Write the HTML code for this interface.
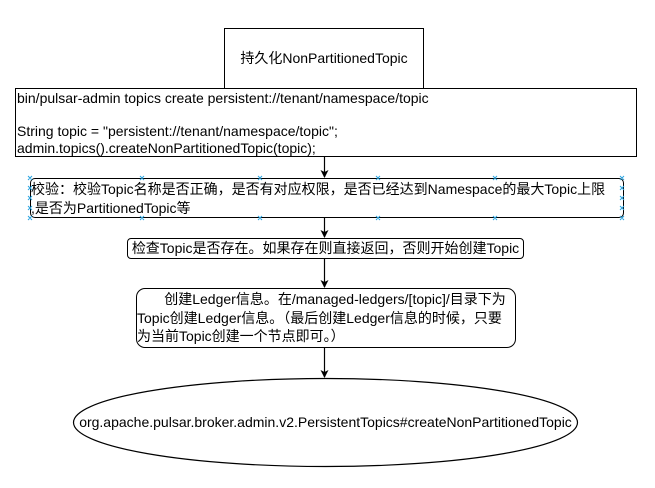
<!DOCTYPE html>
<html><head><meta charset="utf-8"><style>
body{margin:0;background:#fff;width:655px;height:488px;position:relative;overflow:hidden;font-family:"Liberation Sans","Noto Sans CJK SC",sans-serif;font-size:14px;color:#000}
.b{position:absolute;box-sizing:border-box;border:1px solid #000;background:#fff}
.t{position:absolute;white-space:nowrap;line-height:16px}
</style></head><body>
<svg width="655" height="488" style="position:absolute;left:0;top:0">
<defs><marker id="a" markerWidth="8" markerHeight="8" refX="7" refY="4" orient="auto" markerUnits="userSpaceOnUse"><path d="M0,0 L8,4 L0,8 L2,4 z" fill="#000"/></marker></defs>
<g stroke="#000" stroke-width="1.2" fill="none">
<line x1="324.5" y1="157" x2="324.5" y2="177" marker-end="url(#a)"/>
<line x1="324.5" y1="218" x2="324.5" y2="237" marker-end="url(#a)"/>
<line x1="324.5" y1="259" x2="324.5" y2="287" marker-end="url(#a)"/>
<line x1="324.5" y1="348" x2="324.5" y2="377" marker-end="url(#a)"/>
<ellipse cx="325.5" cy="422.5" rx="252" ry="44"/>
</g>
</svg>
<div class="b" style="left:224px;top:28px;width:200px;height:61px"></div>
<div class="t" style="left:224px;top:50px;width:200px;text-align:center">持久化NonPartitionedTopic</div>
<div class="b" style="left:15px;top:88px;width:622px;height:69px"></div>
<div class="t" style="left:17px;top:90px;line-height:16.5px">bin/pulsar-admin topics create persistent://tenant/namespace/topic<br><br>String topic = "persistent://tenant/namespace/topic";<br>admin.topics().createNonPartitionedTopic(topic);</div>
<div class="b" style="left:30px;top:178px;width:594px;height:40px;border-radius:5px"></div>
<div class="t" style="left:31px;top:180px;line-height:19px">校验：校验Topic名称是否正确，是否有对应权限，是否已经达到Namespace的最大Topic上限<br>,是否为PartitionedTopic等</div>
<svg width="655" height="488" style="position:absolute;left:0;top:0" stroke="#29a3e0" stroke-width="1">
<g id="h">
<path d="M28,176l4,4M32,176l-4,4M140,176l4,4M144,176l-4,4M258,176l4,4M262,176l-4,4M376,176l4,4M380,176l-4,4M493,176l4,4M497,176l-4,4M620,176l4,4M624,176l-4,4"/>
<path d="M28,216l4,4M32,216l-4,4M140,216l4,4M144,216l-4,4M258,216l4,4M262,216l-4,4M376,216l4,4M380,216l-4,4M493,216l4,4M497,216l-4,4M620,216l4,4M624,216l-4,4"/>
<path d="M28,186l4,4M32,186l-4,4M28,196l4,4M32,196l-4,4M28,206l4,4M32,206l-4,4M620,186l4,4M624,186l-4,4M620,196l4,4M624,196l-4,4M620,206l4,4M624,206l-4,4"/>
</g>
</svg>
<div class="b" style="left:127px;top:238px;width:397px;height:21px;border-radius:4px"></div>
<div class="t" style="left:127px;top:240px;width:397px;text-align:center">检查Topic是否存在。如果存在则直接返回，否则开始创建Topic</div>
<div class="b" style="left:136px;top:288px;width:380px;height:60px;border-radius:9px"></div>
<div class="t" style="left:137px;top:290px;line-height:18.5px">&nbsp;&nbsp;&nbsp;&nbsp;&nbsp;&nbsp;&nbsp;创建Ledger信息。在/managed-ledgers/[topic]/目录下为<br>Topic创建Ledger信息。（最后创建Ledger信息的时候，只要<br>为当前Topic创建一个节点即可。）</div>
<div class="t" style="left:73px;top:414px;width:505px;text-align:center">org.apache.pulsar.broker.admin.v2.PersistentTopics#createNonPartitionedTopic</div>
</body></html>
